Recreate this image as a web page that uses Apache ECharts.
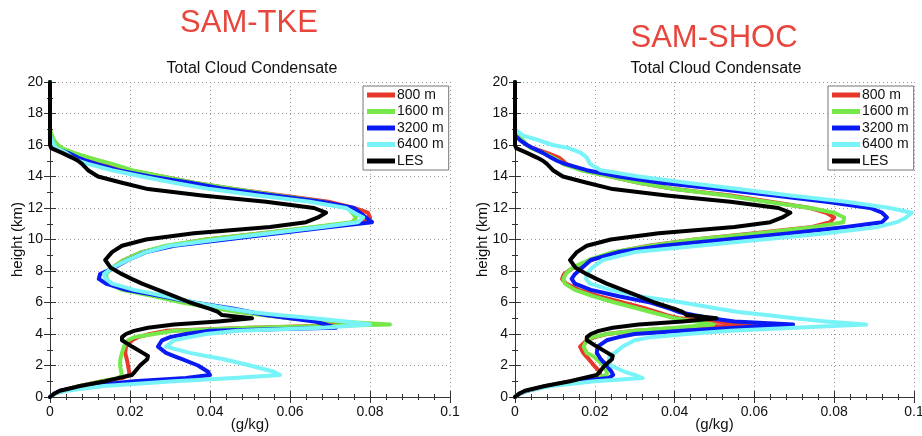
<!DOCTYPE html>
<html>
<head>
<meta charset="utf-8">
<script src="https://cdn.jsdelivr.net/npm/echarts/dist/echarts.min.js"></script>
<style>
  html, body { margin: 0; padding: 0; background: #fff; }
  #chart { width: 922px; height: 436px; }
</style>
</head>
<body>
<div id="chart"></div>
<script>
// heights (km) shared by every profile
var heights = [0, 0.2, 0.4, 0.7, 1.0, 1.2, 1.4, 1.6, 2.0, 2.4,
  2.6, 2.8, 3.2, 3.6, 3.8, 4.0, 4.2, 4.4, 4.6, 4.8,
  5.0, 5.2, 5.4, 5.6, 6.0, 6.4, 6.8, 7.2, 7.5, 7.8,
  8.2, 8.7, 9.2, 9.6, 10.0, 10.4, 10.8, 11.1, 11.4, 11.7,
  12.0, 12.4, 12.8, 13.2, 13.6, 14.0, 14.4, 14.8, 15.0, 15.2,
  15.5, 15.8, 16.0, 16.3, 16.6, 17.0, 18.0, 20.0];

var names = ['800 m', '1600 m', '3200 m', '6400 m', 'LES'];
var colors = ['#e8382c', '#76e84a', '#0a1af2', '#78f3f8', '#000000'];

// LES reference (same in both panels), g/kg
var les = [0, 0.001, 0.0025, 0.0075, 0.0138, 0.017, 0.0205, 0.0212, 0.0225, 0.0243,
  0.0245, 0.0232, 0.0205, 0.018, 0.018, 0.019, 0.021, 0.0245, 0.031, 0.042,
  0.0505, 0.043, 0.042, 0.040, 0.035, 0.031, 0.027, 0.023, 0.0204, 0.018,
  0.0152, 0.0138, 0.0155, 0.018, 0.024, 0.036, 0.055, 0.064, 0.067, 0.069,
  0.066, 0.054, 0.038, 0.0245, 0.018, 0.012, 0.0095, 0.008, 0.007, 0.0055,
  0.003, 0.0003, 0, 0, 0, 0, 0, 0];

// SAM-TKE
var tke800 = [0, 0.001, 0.003, 0.0075, 0.013, 0.018, 0.0198, 0.0198, 0.0195, 0.0192,
  0.019, 0.0188, 0.019, 0.0205, 0.022, 0.025, 0.029, 0.05, 0.080, 0.070,
  0.060, 0.054, 0.048, 0.043, 0.034, 0.027, 0.0195, 0.015, 0.014, 0.0138,
  0.0155, 0.0185, 0.023, 0.030, 0.039, 0.053, 0.067, 0.077, 0.080, 0.0795,
  0.076, 0.0696, 0.058, 0.046, 0.036, 0.028, 0.0196, 0.014, 0.0118, 0.0095,
  0.0052, 0.002, 0.001, 0.0005, 0.0002, 0, 0, 0];
var tke1600 = [0, 0.001, 0.003, 0.0075, 0.013, 0.017, 0.018, 0.0178, 0.0175, 0.0176,
  0.0178, 0.018, 0.0185, 0.0195, 0.021, 0.026, 0.031, 0.05, 0.085, 0.072,
  0.060, 0.053, 0.047, 0.042, 0.033, 0.026, 0.018, 0.015, 0.0142, 0.014,
  0.0155, 0.0185, 0.023, 0.029, 0.039, 0.053, 0.066, 0.0755, 0.0765, 0.0755,
  0.0745, 0.068, 0.057, 0.046, 0.036, 0.028, 0.0205, 0.0155, 0.0125, 0.0098,
  0.006, 0.003, 0.002, 0.001, 0.0005, 0, 0, 0];
var tke3200 = [0, 0.001, 0.0025, 0.009, 0.021, 0.034, 0.040, 0.0395, 0.037, 0.033,
  0.031, 0.029, 0.027, 0.028, 0.030, 0.034, 0.040, 0.0715, 0.069, 0.066,
  0.060, 0.054, 0.050, 0.046, 0.036, 0.028, 0.019, 0.014, 0.0122, 0.0125,
  0.016, 0.0195, 0.024, 0.031, 0.044, 0.057, 0.070, 0.0805, 0.079, 0.0775,
  0.076, 0.068, 0.056, 0.044, 0.035, 0.025, 0.017, 0.0115, 0.009, 0.007,
  0.0045, 0.001, 0.0008, 0.0004, 0, 0, 0, 0];
var tke6400 = [0, 0.001, 0.004, 0.0135, 0.031, 0.046, 0.0575, 0.056, 0.050, 0.0435,
  0.039, 0.035, 0.029, 0.031, 0.035, 0.039, 0.047, 0.068, 0.080, 0.074,
  0.066, 0.057, 0.050, 0.045, 0.036, 0.029, 0.021, 0.0155, 0.014, 0.0135,
  0.0155, 0.0195, 0.024, 0.030, 0.042, 0.055, 0.068, 0.077, 0.0783, 0.076,
  0.074, 0.065, 0.052, 0.040, 0.031, 0.023, 0.0155, 0.0095, 0.007, 0.0055,
  0.004, 0.0015, 0.001, 0.0005, 0, 0, 0, 0];

// SAM-SHOC
var shoc800 = [0, 0.001, 0.003, 0.008, 0.014, 0.019, 0.0213, 0.0213, 0.0198, 0.0185,
  0.0178, 0.0171, 0.0163, 0.018, 0.020, 0.023, 0.030, 0.042, 0.060, 0.050,
  0.041, 0.038, 0.0355, 0.033, 0.027, 0.021, 0.016, 0.0128, 0.0118, 0.0123,
  0.0145, 0.0193, 0.025, 0.0335, 0.045, 0.060, 0.0745, 0.079, 0.080, 0.078,
  0.074, 0.064, 0.054, 0.040, 0.031, 0.024, 0.017, 0.0128, 0.012, 0.011,
  0.008, 0.0045, 0.003, 0.0015, 0.0003, 0, 0, 0];
var shoc1600 = [0, 0.001, 0.003, 0.008, 0.015, 0.020, 0.023, 0.023, 0.0222, 0.0205,
  0.0195, 0.018, 0.0172, 0.018, 0.0195, 0.023, 0.030, 0.040, 0.0497, 0.045,
  0.040, 0.037, 0.034, 0.031, 0.025, 0.0195, 0.015, 0.0125, 0.0121, 0.0127,
  0.0143, 0.0185, 0.0245, 0.034, 0.045, 0.061, 0.075, 0.0823, 0.0825, 0.080,
  0.074, 0.063, 0.053, 0.040, 0.031, 0.024, 0.0165, 0.012, 0.011, 0.0095,
  0.007, 0.004, 0.003, 0.002, 0.0005, 0, 0, 0];
var shoc3200 = [0, 0.001, 0.003, 0.008, 0.0155, 0.0235, 0.0246, 0.0242, 0.023, 0.0215,
  0.021, 0.0205, 0.0207, 0.023, 0.026, 0.030, 0.042, 0.055, 0.0697, 0.055,
  0.049, 0.045, 0.041, 0.039, 0.034, 0.026, 0.019, 0.015, 0.0142, 0.015,
  0.0168, 0.019, 0.026, 0.037, 0.053, 0.069, 0.083, 0.092, 0.0932, 0.092,
  0.089, 0.078, 0.065, 0.051, 0.0365, 0.026, 0.018, 0.0125, 0.0105, 0.009,
  0.007, 0.0045, 0.003, 0.0013, 0, 0, 0, 0];
var shoc6400 = [0, 0.001, 0.003, 0.009, 0.020, 0.032, 0.030, 0.0275, 0.024, 0.0235,
  0.0237, 0.025, 0.027, 0.030, 0.034, 0.043, 0.054, 0.070, 0.088, 0.078,
  0.070, 0.063, 0.056, 0.051, 0.042, 0.031, 0.024, 0.0188, 0.0178, 0.018,
  0.0193, 0.022, 0.030, 0.046, 0.062, 0.078, 0.091, 0.0957, 0.098, 0.0994,
  0.094, 0.083, 0.069, 0.056, 0.043, 0.031, 0.0215, 0.0188, 0.0184, 0.018,
  0.0165, 0.0135, 0.0095, 0.006, 0.002, 0, 0, 0];

var xTicks = [0, 0.02, 0.04, 0.06, 0.08, 0.1];
var yTicks = [0, 2, 4, 6, 8, 10, 12, 14, 16, 18, 20];

var panels = [
  { title: 'SAM-TKE', profiles: [tke800, tke1600, tke3200, tke6400, les] },
  { title: 'SAM-SHOC', profiles: [shoc800, shoc1600, shoc3200, shoc6400, les] }
];

var font = 'Liberation Sans, Arial, Helvetica, sans-serif';
var frame = '#333';

function pairs(xs) {
  var out = [];
  for (var i = 0; i < heights.length; i++) out.push([xs[i], heights[i]]);
  return out;
}

// outerBoundsMode none: keep the plot boxes where they are (v6 would shrink them)
var grids = [
  { left: 50, right: 472, top: 82, bottom: 39, outerBoundsMode: 'none', containLabel: false },
  { left: 515, right: 8, top: 82, bottom: 39, outerBoundsMode: 'none', containLabel: false }
];

var xAxes = [], yAxes = [], series = [];
grids.forEach(function (g, gi) {
  var base = {
    type: 'value', gridIndex: gi, min: 0, max: xTicks[xTicks.length - 1],
    interval: xTicks[1] - xTicks[0],
    axisLine: { show: true, lineStyle: { color: frame, width: 1 } },
    axisTick: { show: true, inside: true, length: 6, lineStyle: { color: frame } },
    minorTick: { show: true, splitNumber: 5, length: 3, lineStyle: { color: frame } }
  };
  xAxes.push(Object.assign({}, base, {
    position: 'bottom',
    splitLine: { show: true, lineStyle: { color: '#999', type: [1, 3], width: 1 } },
    axisLabel: {
      color: '#111', fontSize: 14, fontFamily: font, margin: 8,
      formatter: function (v) { return String(parseFloat(v.toFixed(2))); }
    },
    name: '(g/kg)', nameLocation: 'middle', nameGap: 20, nameMoveOverlap: false,
    nameTextStyle: { color: '#111', fontSize: 15, fontFamily: font, verticalAlign: 'top' }
  }));
  xAxes.push(Object.assign({}, base, {
    position: 'top', axisLabel: { show: false }, splitLine: { show: false }
  }));
  var ybase = {
    type: 'value', gridIndex: gi, min: 0, max: yTicks[yTicks.length - 1],
    interval: yTicks[1] - yTicks[0],
    axisLine: { show: true, lineStyle: { color: frame, width: 1 } },
    axisTick: { show: true, inside: true, length: 6, lineStyle: { color: frame } },
    minorTick: { show: true, splitNumber: 2, length: 3, lineStyle: { color: frame } }
  };
  yAxes.push(Object.assign({}, ybase, {
    position: 'left',
    splitLine: { show: true, lineStyle: { color: '#999', type: [1, 3], width: 1 } },
    axisLabel: { color: '#111', fontSize: 14, fontFamily: font, margin: 7 },
    name: 'height (km)', nameLocation: 'middle', nameGap: 25, nameMoveOverlap: false,
    nameTextStyle: { color: '#111', fontSize: 15, fontFamily: font }
  }));
  yAxes.push(Object.assign({}, ybase, {
    position: 'right', axisLabel: { show: false }, splitLine: { show: false }
  }));

  panels[gi].profiles.forEach(function (p, si) {
    series.push({
      name: names[si], type: 'line',
      xAxisIndex: gi * 2, yAxisIndex: gi * 2,
      data: pairs(p),
      showSymbol: false, symbol: 'none',
      lineStyle: { color: colors[si], width: 4, join: 'round', cap: 'round' },
      itemStyle: { color: colors[si] },
      z: 2 + si
    });
  });
});

function legendAt(left) {
  return {
    left: left, top: 86, orient: 'vertical',
    data: names, icon: 'rect', itemWidth: 28, itemHeight: 5, itemGap: 0.5,
    padding: [1, 5, 1, 4],
    borderColor: '#777', borderWidth: 1, backgroundColor: '#fff',
    textStyle: { color: '#111', fontSize: 14, fontFamily: font, lineHeight: 16, padding: [0, 0, 0, -3] }
  };
}

var chart = echarts.init(document.getElementById('chart'));
chart.setOption({
  animation: false,
  backgroundColor: '#fff',
  title: [
    { text: 'SAM-TKE', left: 244, top: 3, textAlign: 'center',
      textStyle: { color: '#e8453c', fontSize: 31, fontWeight: 'normal', fontFamily: font } },
    { text: 'SAM-SHOC', left: 709, top: 18, textAlign: 'center',
      textStyle: { color: '#e8453c', fontSize: 31, fontWeight: 'normal', fontFamily: font } },
    { text: 'Total Cloud Condensate', left: 247, top: 56, textAlign: 'center',
      textStyle: { color: '#111', fontSize: 16, fontWeight: 'normal', fontFamily: font } },
    { text: 'Total Cloud Condensate', left: 711, top: 56, textAlign: 'center',
      textStyle: { color: '#111', fontSize: 16, fontWeight: 'normal', fontFamily: font } }
  ],
  legend: [legendAt(363), legendAt(828)],
  grid: grids,
  xAxis: xAxes,
  yAxis: yAxes,
  series: series
});
</script>
</body>
</html>
